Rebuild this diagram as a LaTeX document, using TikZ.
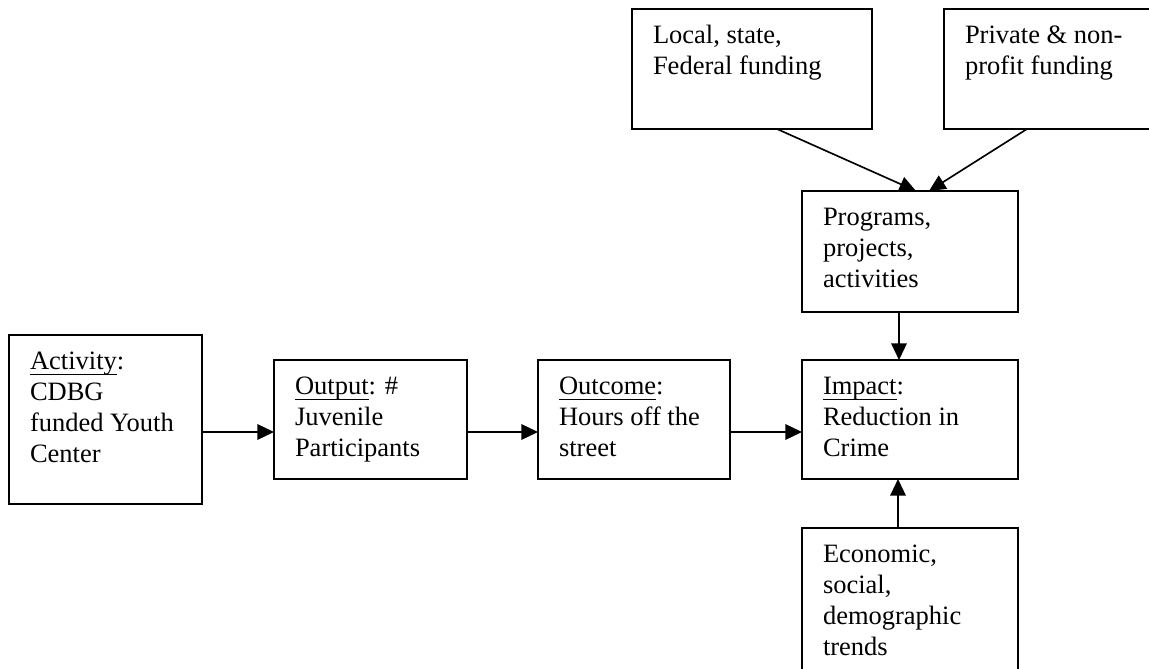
\documentclass[tikz,border=0pt]{standalone}
\usepackage{fontspec}
\setmainfont{Liberation Serif}
\usetikzlibrary{arrows.meta,calc}
\newcommand{\ulw}[1]{\begingroup\setbox0\hbox{#1}\rlap{\rule[-2.3pt]{\wd0}{0.6pt}}\box0\endgroup}

\begin{document}
\begin{tikzpicture}[x=0.4528pt,y=0.4528pt,
box/.style={draw,rectangle,line width=0.75pt,anchor=north west,outer sep=0pt,
    inner xsep=9.51pt,inner ysep=0pt,align=flush left,text height=15.85pt,
    font=\fontsize{12}{13.9}\selectfont},
arr/.style={-{Triangle[length=7.5pt,width=7pt]},line width=0.75pt}]
\useasboundingbox (0,0) rectangle (1149,-669);
\clip (0,0) rectangle (1149,-669);

\node (act) [box,text width=68.37pt,text depth=60.68pt] at (9,-335)
    {\ulw{Activity}:\\CDBG\\funded Youth\\Center};
\node (out) [box,text width=68.37pt,text depth=38.04pt] at (274,-360)
    {\ulw{Output}: \#\\Juvenile\\Participants};
\node (outc) [box,text width=67.92pt,text depth=38.04pt] at (538,-360)
    {\ulw{Outcome}:\\Hours off the\\street};
\node (imp) [box,text width=78.79pt,text depth=38.04pt] at (802,-360)
    {\ulw{Impact}:\\Reduction in\\Crime};
\node (prog) [box,text width=78.79pt,text depth=38.94pt] at (802,-191)
    {Programs,\\projects,\\activities};
\node (econ) [box,text width=78.79pt,text depth=61.13pt] at (802,-528)
    {Economic,\\social,\\demographic\\trends};
\node (local) [box,text width=89.65pt,text depth=38.49pt] at (632,-9)
    {Local, state,\\Federal funding};
\node (priv) [box,text width=89.65pt,text depth=38.49pt] at (944,-9)
    {Private \& non-\\profit funding};

\draw[arr] ($(act.east)+(0,-12.5)$) -- ($(out.west)+(0,-12.5)$);
\draw[arr] ($(out.east)+(0,-12.5)$) -- ($(outc.west)+(0,-12.5)$);
\draw[arr] ($(outc.east)+(0,-12.5)$) -- ($(imp.west)+(0,-12.5)$);
\draw[arr] ($(prog.south)+(-11,0)$) -- ($(imp.north)+(-11,0)$);
\draw[arr] ($(econ.north)+(-12,0)$) -- ($(imp.south)+(-12,0)$);
\draw[arr] ($(local.south)+(25,0)$) -- ($(prog.north)+(6,0)$);
\draw[arr] ($(priv.south)+(-37,0)$) -- ($(prog.north)+(19,0)$);
\end{tikzpicture}
\end{document}
